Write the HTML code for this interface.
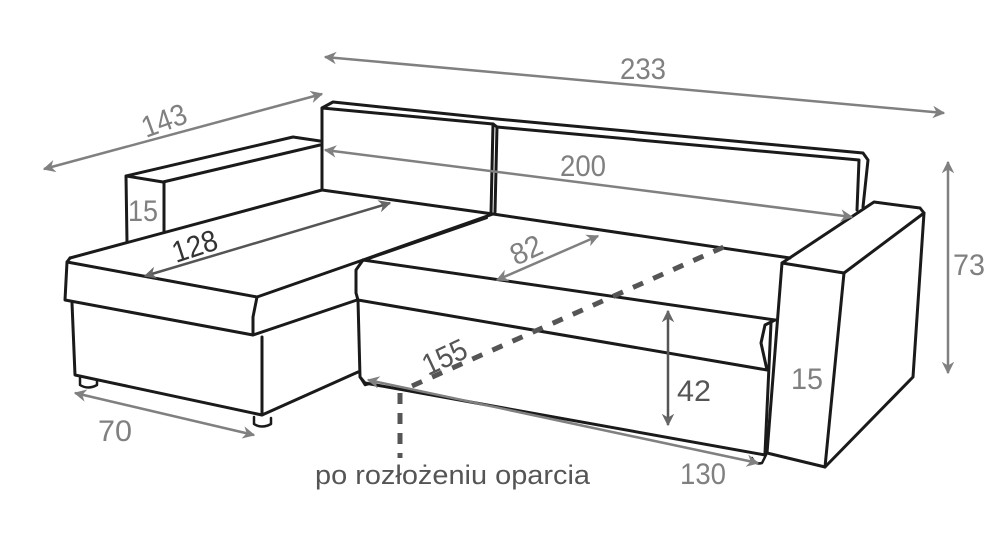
<!DOCTYPE html>
<html><head><meta charset="utf-8"><style>
html,body{margin:0;padding:0;background:#fff;}
svg{display:block;}
text{font-family:"Liberation Sans Narrow","Liberation Sans",sans-serif;fill:#808080;}
</style></head><body>
<svg width="1000" height="541" viewBox="0 0 1000 541" xmlns="http://www.w3.org/2000/svg">
<defs>
<marker id="a" viewBox="0 0 10 10" refX="9" refY="5" markerWidth="5" markerHeight="5" orient="auto-start-reverse"><path d="M0,0 L10,5 L0,10 L3,5 z" fill="#808080"/></marker>
<marker id="d" viewBox="0 0 10 10" refX="9" refY="5" markerWidth="5" markerHeight="5" orient="auto-start-reverse"><path d="M0,0 L10,5 L0,10 L3,5 z" fill="#666"/></marker>
</defs>
<g fill="none" stroke="#1a1a1a" stroke-width="3" stroke-linejoin="round" stroke-linecap="round">
<path d="M127,242 L126,176 L293,137 L320,141"/>
<path d="M126,176 L163,182 L320,145"/>
<path d="M164,182 L164,232"/>
<path d="M322,190 L322,108 L333,102 L497,119"/>
<path d="M322,108 L493,124"/>
<path d="M497,119 L863,153 L868,160 L863,207"/>
<path d="M493,124 L497,127 L859,160 L857,210"/>
<path d="M493,124 L491,214 M497,127 L495,212"/>
<path d="M322,190 L493,214 L790,258"/>
<path d="M70,258 L322,190"/>
<path d="M493,214 L363,260"/>
<path d="M487,218 L360,262" stroke-width="2"/>
<path d="M70,258 L67,262 L65,300 L253,335"/>
<path d="M67,262 L257,297 L253,317 L253,335 L357,300"/>
<path d="M257,297 L363,260"/>
<path d="M72,303 L75,375 L262,415 L358,372"/>
<path d="M262,337 L262,415"/>
<path d="M80,378 L80,385 Q88,390 97,385 L97,380" stroke-width="2.5"/>
<path d="M254,417 L254,424 Q262,429 271,424 L271,418" stroke-width="2.5"/>
<path d="M363,260 L356,270 L356,293 L358,300 L767,370 L761,343 L765,325 L775,320"/>
<path d="M363,260 L775,320"/>
<path d="M358,300 L360,377 L365,383 L765,455"/>
<path d="M771,323 L765,453"/>
<path d="M360,377 L365,385 L372,383" stroke-width="2.5"/>
<path d="M752,458 Q755,465 762,463 L766,455" stroke-width="2.5"/>
<path d="M782,263 L874,202 L920,208 L924,213 L844,273 L782,263"/>
<path d="M782,263 L767,453 L825,467 L844,273"/>
<path d="M924,213 L913,377 L825,467"/>
</g>
<g fill="none" stroke="#808080" stroke-width="2.5">
<line x1="325" y1="57" x2="944" y2="113" marker-start="url(#a)" marker-end="url(#a)"/>
<line x1="44" y1="169" x2="322" y2="94" marker-start="url(#a)" marker-end="url(#a)"/>
<line x1="325" y1="150" x2="852" y2="217" marker-start="url(#a)" marker-end="url(#a)"/>
<line x1="948" y1="162" x2="948" y2="373" marker-start="url(#a)" marker-end="url(#a)"/>
<line x1="497" y1="280" x2="598" y2="236" marker-start="url(#a)" marker-end="url(#a)"/>
<line x1="75" y1="393" x2="254" y2="435" marker-start="url(#a)" marker-end="url(#a)"/>
<line x1="368" y1="380" x2="758" y2="463" marker-start="url(#a)" marker-end="url(#a)"/>
</g>
<g fill="none" stroke="#555" stroke-width="2.5">
<line x1="145" y1="276" x2="390" y2="203" marker-start="url(#d)" marker-end="url(#d)"/>
<line x1="668" y1="311" x2="668" y2="425" marker-start="url(#d)" marker-end="url(#d)"/>
</g>
<g stroke="#555" stroke-width="5" fill="none">
<line x1="412" y1="386" x2="726" y2="246" stroke-dasharray="11,11"/>
<line x1="400" y1="393" x2="400" y2="458" stroke-dasharray="11,9"/>
</g>
<g font-size="30">
<text x="620" y="79" textLength="46" lengthAdjust="spacingAndGlyphs">233</text>
<text x="560" y="176" textLength="46" lengthAdjust="spacingAndGlyphs">200</text>
<text transform="translate(146,138) rotate(-20)" textLength="46" lengthAdjust="spacingAndGlyphs">143</text>
<text x="128" y="221" textLength="30" lengthAdjust="spacingAndGlyphs">15</text>
<text transform="translate(176,263) rotate(-18)" textLength="46" lengthAdjust="spacingAndGlyphs" style="fill:#333">128</text>
<text transform="translate(516,266) rotate(-25)" textLength="32" lengthAdjust="spacingAndGlyphs">82</text>
<text x="953" y="275" textLength="32" lengthAdjust="spacingAndGlyphs">73</text>
<text x="791" y="389" textLength="32" lengthAdjust="spacingAndGlyphs">15</text>
<text x="677" y="401" style="fill:#555" textLength="34" lengthAdjust="spacingAndGlyphs">42</text>
<text transform="translate(428,376) rotate(-25)" style="fill:#555" textLength="46" lengthAdjust="spacingAndGlyphs">155</text>
<text x="98" y="441" textLength="34" lengthAdjust="spacingAndGlyphs">70</text>
<text x="680" y="484" textLength="46" lengthAdjust="spacingAndGlyphs">130</text>
</g>
<text x="315" y="484" font-size="27" style="fill:#555" textLength="275" lengthAdjust="spacingAndGlyphs">po rozłożeniu oparcia</text>
</svg>
</body></html>
